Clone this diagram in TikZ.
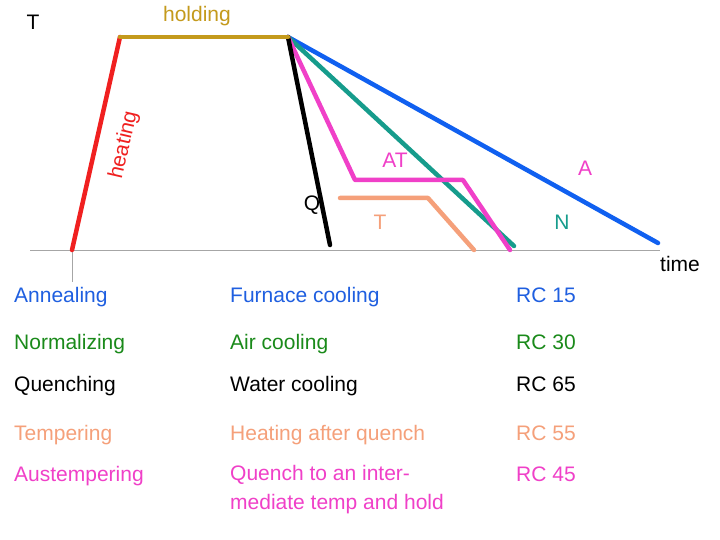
\documentclass[tikz,border=0pt]{standalone}
\usepackage{fontspec}
\setmainfont{Liberation Sans}
\definecolor{cblue}{HTML}{1F5FE0}
\definecolor{cline}{HTML}{1060F0}
\definecolor{cteal}{HTML}{169C8C}
\definecolor{cgreen}{HTML}{1A8A1A}
\definecolor{cmag}{HTML}{F040C8}
\definecolor{csal}{HTML}{F5A07A}
\definecolor{cgold}{HTML}{C49A1C}
\definecolor{cred}{HTML}{F02020}
\begin{document}
\begin{tikzpicture}[x=1pt,y=-1pt,
  crv/.style={line width=4.5pt,line cap=round,line join=round},
  lbl/.style={font=\fontsize{21}{23}\selectfont,inner sep=0pt},
  cell/.style={font=\fontsize{21}{24}\selectfont,inner sep=0pt,anchor=base west,align=left}]
\useasboundingbox (0,0) rectangle (720,540);
\fill[white] (0,0) rectangle (720,540);
\coordinate (o) at (30,250); \coordinate (oe) at (660,250);
\coordinate (v0) at (72,250); \coordinate (v1) at (72,282);
\draw[gray!70,line width=0.8pt] (o) -- (oe);
\draw[gray!70,line width=0.8pt] (v0) -- (v1);
\coordinate (h0) at (72,250); \coordinate (h1) at (120,37); \coordinate (h2) at (288,37);
\coordinate (q1) at (330,245);
\coordinate (m1) at (355,180); \coordinate (m2) at (463,180); \coordinate (m3) at (510,250);
\coordinate (n1) at (514,246);
\coordinate (a1) at (658,243);
\coordinate (t0) at (340,198); \coordinate (t1) at (428,198); \coordinate (t2) at (474,250);
\draw[crv,cline] (h2) -- (a1);
\draw[crv,cteal] (h2) -- (n1);
\draw[crv,cmag] (h2) -- (m1) -- (m2) -- (m3);
\draw[crv,black] (h2) -- (q1);
\draw[crv,csal] (t0) -- (t1) -- (t2);
\draw[crv,cred] (h0) -- (h1);
\draw[crv,cgold] (h1) -- (h2);
\node[lbl] (lT) at (33,22) {T};
\node[lbl,cgold] (lhold) at (197,16) {holding};
\node[lbl,cred,rotate=77] (lheat) at (124,145) {heating};
\node[lbl,cmag] (lAT) at (395,160) {AT};
\node[lbl,cmag] (lA) at (585,168) {A};
\node[lbl,black] (lQ) at (312,205) {Q};
\node[lbl,csal] (lTT) at (380,222) {T};
\node[lbl,cteal] (lN) at (562,222) {N};
\node[lbl] (ltime) at (680,264) {time};
\foreach \y/\a/\b/\c/\col in {302/Annealing/Furnace cooling/RC 15/cblue,
  349/Normalizing/Air cooling/RC 30/cgreen,
  391/Quenching/Water cooling/RC 65/black,
  440/Tempering/Heating after quench/RC 55/csal}{
  \node[cell,text=\col] at (14,\y) {\a};
  \node[cell,text=\col] at (230,\y) {\b};
  \node[cell,text=\col] at (516,\y) {\c};
}
\node[cell,text=cmag] (r5a) at (14,481) {Austempering};
\node[cell,text=cmag,anchor=north west,align=left,font=\fontsize{21}{29}\selectfont] (r5b) at (230,465) {Quench to an inter-\\mediate temp and hold};
\node[cell,text=cmag] (r5c) at (516,481) {RC 45};
\end{tikzpicture}
\end{document}
